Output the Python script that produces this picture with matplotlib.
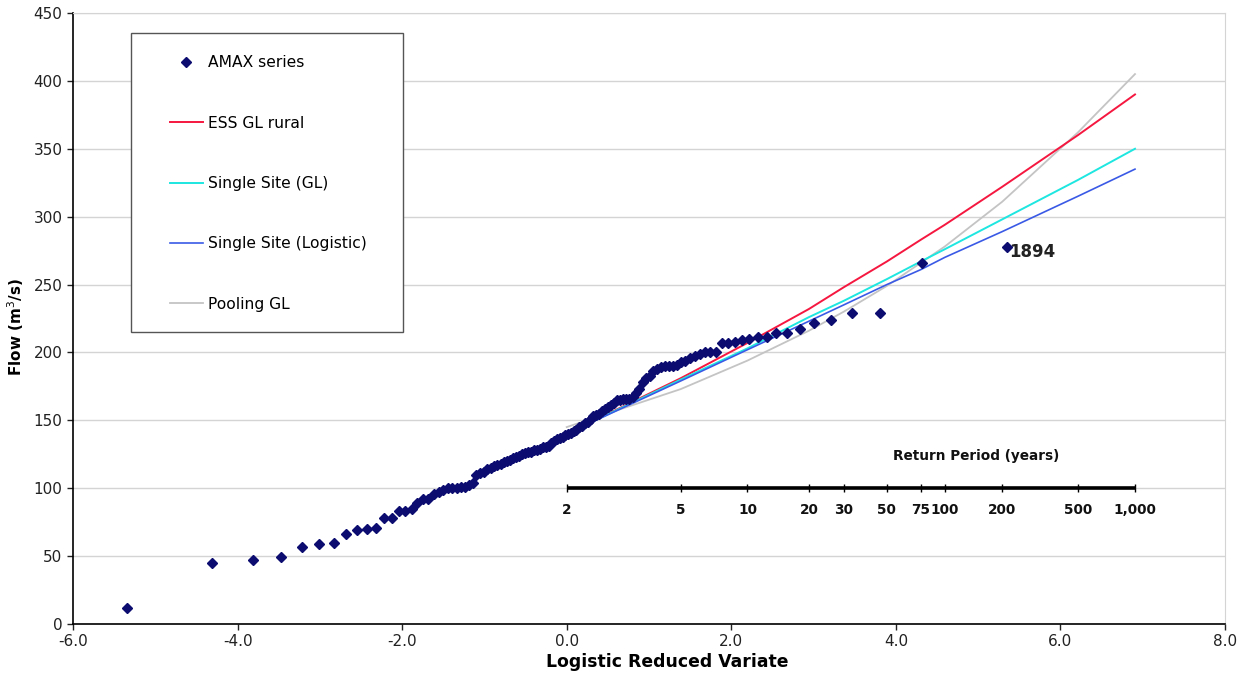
import numpy as np
import matplotlib

matplotlib.use('Agg')
import matplotlib.pyplot as plt
from matplotlib.patches import Rectangle

plt.rcParams['font.family'] = ['DejaVu Sans']

# annual maximum flows (m3/s), ranked smallest to largest
amax_flow = [12, 45, 47, 49, 57, 59, 60, 66, 69, 70,
             71, 78, 78, 83, 83, 85, 89, 92, 92, 96,
             97, 99, 100, 100, 100, 101, 101, 102, 104, 110,
             111, 112, 114, 115, 116, 117, 118, 119, 120, 121,
             122, 123, 124, 125, 126, 127, 127, 128, 128, 129,
             130, 130, 131, 133, 135, 136, 137, 138, 139, 140,
             141, 142, 143, 145, 146, 148, 149, 151, 153, 154,
             155, 157, 158, 160, 161, 163, 165, 165, 166, 166,
             166, 167, 170, 173, 178, 181, 183, 186, 188, 189,
             190, 190, 190, 191, 193, 194, 196, 197, 199, 200,
             200, 200, 207, 207, 208, 209, 210, 211, 211, 214,
             214, 217, 222, 224, 229, 229, 266, 278]

# growth curves, flow at each return period
return_periods = [2, 5, 10, 20, 30, 50, 75, 100, 200, 500, 1000]
rp_labels = ['2', '5', '10', '20', '30', '50', '75', '100', '200', '500', '1,000']
ess_gl_rural = [140, 181, 207, 232, 248, 267, 283, 294, 322, 360, 390]
single_site_gl = [140, 180, 203, 226, 238, 254, 267, 276, 298, 327, 350]
single_site_logistic = [140, 179, 202, 223, 235, 250, 261, 270, 289, 315, 335]
pooling_gl = [145, 173, 194, 216, 230, 249, 266, 278, 311, 362, 405]

# Gringorten plotting positions -> logistic reduced variate
n = len(amax_flow)
rank = np.arange(1, n + 1)
F = (rank - 0.44) / (n + 0.12)
amax_x = np.log(F / (1 - F))

# reduced variate for the return periods
rp_x = np.log(np.array(return_periods) - 1.0)

fig = plt.figure(figsize=(12.46, 6.8), dpi=100)
ax = fig.add_axes([0.0586, 0.0824, 0.9245, 0.8985])

ax.plot(rp_x, ess_gl_rural, color='#f5173f', lw=1.4, label='ESS GL rural', zorder=3)
ax.plot(rp_x, single_site_gl, color='#1ee6e0', lw=1.4, label='Single Site (GL)', zorder=3)
ax.plot(rp_x, single_site_logistic, color='#3a5ae6', lw=1.2, label='Single Site (Logistic)', zorder=3)
ax.plot(rp_x, pooling_gl, color='#c4c4c4', lw=1.3, label='Pooling GL', zorder=2)
ax.plot(amax_x, amax_flow, ls='none', marker='D', ms=4.8, color='#0c0c70',
        label='AMAX series', zorder=5)

ax.annotate('1894', (amax_x[-1], amax_flow[-1]), xytext=(2, -4), textcoords='offset points',
            ha='left', va='center', fontsize=12, fontweight='bold', color='#222222')

# return period scale drawn along Q = 100
ax.plot([rp_x[0], rp_x[-1]], [100, 100], color='black', lw=2.6, zorder=4,
        solid_capstyle='butt')
ax.plot(rp_x, [100] * len(rp_x), ls='none', marker='|', ms=6, mew=1.0, color='black', zorder=4)
for xv, lab in zip(rp_x, rp_labels):
    ax.text(xv, 84, lab, ha='center', va='center', fontsize=9.8, fontweight='bold', color='#111111')
ax.text(4.97, 124, 'Return Period (years)', ha='center', va='center', fontsize=9.8,
        fontweight='bold', color='#111111')

ax.set_xlim(-6, 8)
ax.set_ylim(0, 450)
ax.set_xticks(np.arange(-6, 8.1, 2))
ax.set_xticklabels(['%.1f' % v for v in np.arange(-6, 8.1, 2)])
ax.set_yticks(np.arange(0, 451, 50))
ax.tick_params(labelsize=11, length=4, width=1, direction='out', colors='#222222')
ax.grid(axis='y', color='#d4d4d4', lw=1)
ax.set_axisbelow(True)
for side in ['left', 'bottom']:
    ax.spines[side].set_color('black')
    ax.spines[side].set_linewidth(1.2)
ax.spines['top'].set_color('#d4d4d4')
ax.spines['right'].set_color('#d4d4d4')

ax.set_xlabel('Logistic Reduced Variate', fontsize=12.4, fontweight='bold')
ax.xaxis.set_label_coords(0.516, -0.048)
ax.set_ylabel('Flow (m$^3$/s)', fontsize=11, fontweight='bold')
ax.yaxis.set_label_coords(-0.041, 0.486)

# legend box
ax.add_patch(Rectangle((0.0503, 0.4779), 0.2361, 0.4894, transform=ax.transAxes,
                       facecolor='white', edgecolor='#555555', lw=1.0, zorder=6))
handles, labels = ax.get_legend_handles_labels()
order = [4, 0, 1, 2, 3]
leg = ax.legend([handles[i] for i in order], [labels[i] for i in order],
                loc='upper left', bbox_to_anchor=(0.0842, 0.931), fontsize=11.2,
                frameon=False, labelspacing=2.92, handlelength=2.1, handletextpad=0.32,
                borderpad=0, borderaxespad=0, numpoints=1)
leg.set_zorder(7)

fig.savefig('out.png', dpi=100)
